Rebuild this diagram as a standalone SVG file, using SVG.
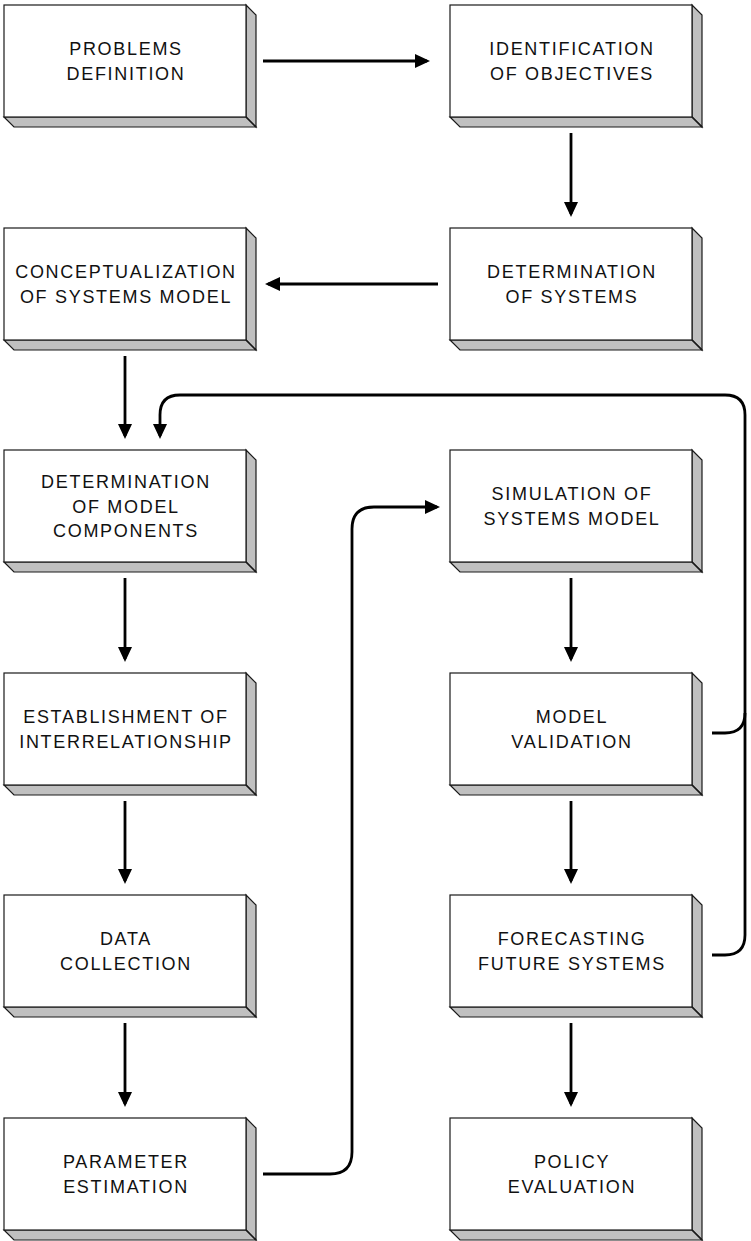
<svg xmlns="http://www.w3.org/2000/svg" width="751" height="1241" viewBox="0 0 751 1241">
  <style>
    .front { fill: #ffffff; stroke: #1a1a1a; stroke-width: 1.2; }
    .side { fill: #c0c0c0; stroke: #1a1a1a; stroke-width: 1.2; stroke-linejoin: miter; }
    .label { font-family: "Liberation Sans", Arial, sans-serif; font-size: 18px; letter-spacing: 1.7px; fill: #111111; text-anchor: middle; }
    .wire { fill: none; stroke: #000000; stroke-width: 2.8; }
  </style>
  <defs>
    <marker id="head" viewBox="0 0 15 14" refX="12" refY="7" markerWidth="15" markerHeight="14" markerUnits="userSpaceOnUse" orient="auto">
      <path d="M0,0 L15,7 L0,14 Z" fill="#000000"/>
    </marker>
    <!-- raised box: front face 242x112 with a 10px bevel to the lower right -->
    <g id="box">
      <polygon class="side" points="242,0 252,10 252,122 242,112"/>
      <polygon class="side" points="0,112 242,112 252,122 10,122"/>
      <line x1="242" y1="112" x2="252" y2="122" stroke="#1a1a1a" stroke-width="1.2"/>
      <rect class="front" x="0" y="0" width="242" height="112"/>
    </g>
  </defs>

  <g id="connectors">
    <path class="wire" d="M263,61 H427" marker-end="url(#head)"/>
    <path class="wire" d="M571,133 V214" marker-end="url(#head)"/>
    <path class="wire" d="M438,284 H268" marker-end="url(#head)"/>
    <path class="wire" d="M125,356 V436" marker-end="url(#head)"/>
    <path class="wire" d="M125,578 V659" marker-end="url(#head)"/>
    <path class="wire" d="M125,801 V881" marker-end="url(#head)"/>
    <path class="wire" d="M125,1023 V1104" marker-end="url(#head)"/>
    <path class="wire" d="M571,578 V659" marker-end="url(#head)"/>
    <path class="wire" d="M571,801 V881" marker-end="url(#head)"/>
    <path class="wire" d="M571,1023 V1104" marker-end="url(#head)"/>
    <!-- parameter estimation feeds the simulation -->
    <path class="wire" d="M263,1174 H330 Q352,1174 352,1152 V529 Q352,507 374,507 H437" marker-end="url(#head)"/>
    <!-- feedback loop back to model components -->
    <path class="wire" d="M712,955 H725 Q745,955 745,935 V415 Q745,395 725,395 H180 Q160,395 160,415 V436" marker-end="url(#head)"/>
    <path class="wire" d="M712,733 H725 Q745,733 745,713"/>
  </g>

  <g id="problems-definition">
    <use href="#box" x="4" y="5"/>
    <text class="label" x="126" y="55">PROBLEMS</text>
    <text class="label" x="126" y="80">DEFINITION</text>
  </g>
  <g id="identification-of-objectives">
    <use href="#box" x="450" y="5"/>
    <text class="label" x="572" y="55">IDENTIFICATION</text>
    <text class="label" x="572" y="80">OF OBJECTIVES</text>
  </g>
  <g id="conceptualization">
    <use href="#box" x="4" y="228"/>
    <text class="label" x="126" y="278">CONCEPTUALIZATION</text>
    <text class="label" x="126" y="303">OF SYSTEMS MODEL</text>
  </g>
  <g id="determination-of-systems">
    <use href="#box" x="450" y="228"/>
    <text class="label" x="572" y="278">DETERMINATION</text>
    <text class="label" x="572" y="303">OF SYSTEMS</text>
  </g>
  <g id="model-components">
    <use href="#box" x="4" y="450"/>
    <text class="label" x="126" y="488">DETERMINATION</text>
    <text class="label" x="126" y="512.5">OF MODEL</text>
    <text class="label" x="126" y="537">COMPONENTS</text>
  </g>
  <g id="simulation">
    <use href="#box" x="450" y="450"/>
    <text class="label" x="572" y="500">SIMULATION OF</text>
    <text class="label" x="572" y="525">SYSTEMS MODEL</text>
  </g>
  <g id="interrelationship">
    <use href="#box" x="4" y="673"/>
    <text class="label" x="126" y="723">ESTABLISHMENT OF</text>
    <text class="label" x="126" y="748">INTERRELATIONSHIP</text>
  </g>
  <g id="model-validation">
    <use href="#box" x="450" y="673"/>
    <text class="label" x="572" y="723">MODEL</text>
    <text class="label" x="572" y="748">VALIDATION</text>
  </g>
  <g id="data-collection">
    <use href="#box" x="4" y="895"/>
    <text class="label" x="126" y="945">DATA</text>
    <text class="label" x="126" y="970">COLLECTION</text>
  </g>
  <g id="forecasting">
    <use href="#box" x="450" y="895"/>
    <text class="label" x="572" y="945">FORECASTING</text>
    <text class="label" x="572" y="970">FUTURE SYSTEMS</text>
  </g>
  <g id="parameter-estimation">
    <use href="#box" x="4" y="1118"/>
    <text class="label" x="126" y="1168">PARAMETER</text>
    <text class="label" x="126" y="1193">ESTIMATION</text>
  </g>
  <g id="policy-evaluation">
    <use href="#box" x="450" y="1118"/>
    <text class="label" x="572" y="1168">POLICY</text>
    <text class="label" x="572" y="1193">EVALUATION</text>
  </g>
</svg>
